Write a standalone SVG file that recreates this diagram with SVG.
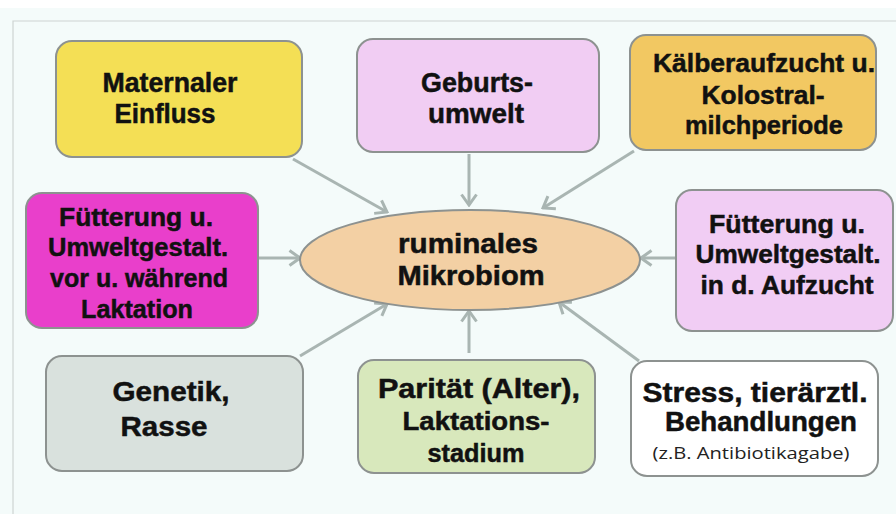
<svg xmlns="http://www.w3.org/2000/svg" width="896" height="514" viewBox="0 0 896 514">
<defs>
<style>
.box{stroke:#8d9290;stroke-width:2}
.t{font-family:"Liberation Sans",Arial,sans-serif;font-weight:bold;fill:#111;stroke:#111;stroke-width:0.5;text-anchor:middle}
.s{font-family:"Open Sans","Noto Sans",sans-serif;fill:#222;text-anchor:middle}
.c{stroke:#a9b5b2;stroke-width:3;fill:none}
</style>
<marker id="ah" viewBox="0 0 14 18" refX="12" refY="9" markerWidth="14" markerHeight="18" markerUnits="userSpaceOnUse" orient="auto">
<path d="M1.5,1.5 L12,9 L1.5,16.5" fill="none" stroke="#a9b5b2" stroke-width="3"/>
</marker>
</defs>
<rect x="0" y="0" width="896" height="514" fill="#f4fbfa"/>
<rect x="0" y="0" width="896" height="8" fill="#ffffff"/>
<path d="M13,514 L13,21 L896,21" fill="none" stroke="#cdd4d2" stroke-width="1.2"/>

<g id="connectors">
<line class="c" x1="293" y1="159" x2="387" y2="212" marker-end="url(#ah)"/>
<line class="c" x1="469" y1="154" x2="469" y2="205" marker-end="url(#ah)"/>
<line class="c" x1="634" y1="151" x2="543" y2="208" marker-end="url(#ah)"/>
<line class="c" x1="676" y1="258" x2="641" y2="258" marker-end="url(#ah)"/>
<line class="c" x1="258" y1="258" x2="300" y2="258" marker-end="url(#ah)"/>
<line class="c" x1="300" y1="356" x2="387" y2="304" marker-end="url(#ah)"/>
<line class="c" x1="469" y1="353" x2="469" y2="311" marker-end="url(#ah)"/>
<line class="c" x1="639" y1="361" x2="559" y2="302" marker-end="url(#ah)"/>
</g>

<g id="center">
<ellipse class="box" cx="470" cy="260" rx="170" ry="50" fill="#f3d0a4"/>
<text class="t" x="468" y="253" font-size="27" textLength="140" lengthAdjust="spacingAndGlyphs">ruminales</text>
<text class="t" x="471" y="285" font-size="27" textLength="147" lengthAdjust="spacingAndGlyphs">Mikrobiom</text>
</g>

<g id="maternal">
<rect class="box" x="56" y="41" width="246" height="116" rx="16" fill="#f4df55"/>
<text class="t" x="170" y="92" font-size="27" textLength="135" lengthAdjust="spacingAndGlyphs">Maternaler</text>
<text class="t" x="165" y="123" font-size="27" textLength="101" lengthAdjust="spacingAndGlyphs">Einfluss</text>
</g>

<g id="geburt">
<rect class="box" x="357" y="39" width="242" height="113" rx="16" fill="#f1cdf3"/>
<text class="t" x="477" y="92" font-size="28" textLength="112" lengthAdjust="spacingAndGlyphs">Geburts-</text>
<text class="t" x="476" y="123" font-size="28" textLength="96" lengthAdjust="spacingAndGlyphs">umwelt</text>
</g>

<g id="kaelber">
<rect class="box" x="630" y="35" width="246" height="115" rx="16" fill="#f2c862"/>
<text class="t" x="764" y="72" font-size="26" textLength="222" lengthAdjust="spacingAndGlyphs">Kälberaufzucht u.</text>
<text class="t" x="763" y="104" font-size="26" textLength="123" lengthAdjust="spacingAndGlyphs">Kolostral-</text>
<text class="t" x="764" y="134" font-size="26" textLength="158" lengthAdjust="spacingAndGlyphs">milchperiode</text>
</g>

<g id="fuetterung-laktation">
<rect class="box" x="26" y="193" width="232" height="135" rx="16" fill="#e93fcb"/>
<text class="t" x="136" y="226" font-size="26" textLength="154" lengthAdjust="spacingAndGlyphs">Fütterung u.</text>
<text class="t" x="138" y="256" font-size="26" textLength="180" lengthAdjust="spacingAndGlyphs">Umweltgestalt.</text>
<text class="t" x="139" y="287" font-size="26" textLength="178" lengthAdjust="spacingAndGlyphs">vor u. während</text>
<text class="t" x="137" y="318" font-size="26" textLength="112" lengthAdjust="spacingAndGlyphs">Laktation</text>
</g>

<g id="fuetterung-aufzucht">
<rect class="box" x="676" y="190" width="217" height="141" rx="16" fill="#f1cdf4"/>
<text class="t" x="787" y="233" font-size="26" textLength="156" lengthAdjust="spacingAndGlyphs">Fütterung u.</text>
<text class="t" x="788" y="263" font-size="26" textLength="185" lengthAdjust="spacingAndGlyphs">Umweltgestalt.</text>
<text class="t" x="787" y="294" font-size="26" textLength="173" lengthAdjust="spacingAndGlyphs">in d. Aufzucht</text>
</g>

<g id="genetik">
<rect class="box" x="46" y="356" width="257" height="115" rx="16" fill="#d9e1dd"/>
<text class="t" x="171" y="401" font-size="28" textLength="117" lengthAdjust="spacingAndGlyphs">Genetik,</text>
<text class="t" x="164" y="436" font-size="28" textLength="87" lengthAdjust="spacingAndGlyphs">Rasse</text>
</g>

<g id="paritaet">
<rect class="box" x="358" y="360" width="237" height="113" rx="16" fill="#d8e8bc"/>
<text class="t" x="479" y="398" font-size="27" textLength="202" lengthAdjust="spacingAndGlyphs">Parität (Alter),</text>
<text class="t" x="476" y="430" font-size="26" textLength="147" lengthAdjust="spacingAndGlyphs">Laktations-</text>
<text class="t" x="476" y="462" font-size="26" textLength="97" lengthAdjust="spacingAndGlyphs">stadium</text>
</g>

<g id="stress">
<rect class="box" x="631" y="361" width="247" height="115" rx="16" fill="#ffffff"/>
<text class="t" x="755" y="402" font-size="28" textLength="225" lengthAdjust="spacingAndGlyphs">Stress, tierärztl.</text>
<text class="t" x="761" y="431" font-size="28" textLength="192" lengthAdjust="spacingAndGlyphs">Behandlungen</text>
<text class="s" x="751" y="459" font-size="17" textLength="197" lengthAdjust="spacingAndGlyphs">(z.B. Antibiotikagabe)</text>
</g>
</svg>
